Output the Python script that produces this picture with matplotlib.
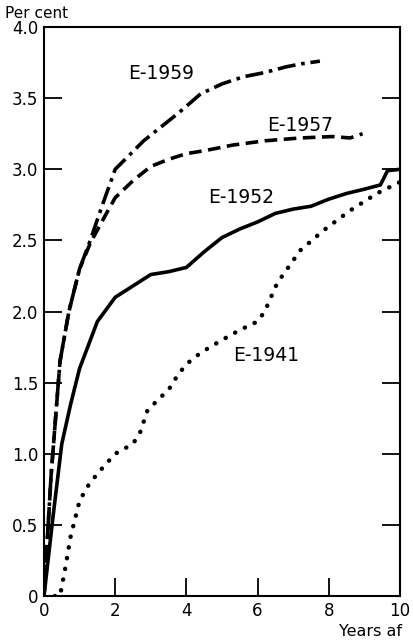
import matplotlib
matplotlib.use('Agg')
import matplotlib.pyplot as plt

# values (years, per cent)
x_1959 = [0, 0.2, 0.45, 0.7, 1.0, 1.3, 1.6, 2.0, 2.4, 2.8, 3.3, 3.8, 4.4, 5.0, 5.6, 6.2, 6.8, 7.2, 7.75]
y_1959 = [0, 0.85, 1.65, 2.0, 2.3, 2.5, 2.72, 3.0, 3.1, 3.2, 3.3, 3.4, 3.53, 3.6, 3.65, 3.68, 3.72, 3.74, 3.76]

x_1957 = [0, 0.2, 0.45, 0.7, 1.0, 1.3, 1.6, 2.0, 2.5, 3.0, 3.5, 4.0, 4.5, 5.3, 6.2, 7.2, 8.1, 8.6, 8.95]
y_1957 = [0, 0.85, 1.65, 2.0, 2.3, 2.48, 2.62, 2.8, 2.92, 3.02, 3.07, 3.11, 3.13, 3.17, 3.2, 3.22, 3.23, 3.22, 3.25]

x_1952 = [0, 0.25, 0.5, 0.75, 1.0, 1.5, 2.0, 2.5, 3.0, 3.5, 4.0, 4.5, 5.0, 5.5, 6.0, 6.5, 7.0, 7.5, 8.0, 8.5, 9.0, 9.45, 9.65, 10.0]
y_1952 = [0, 0.55, 1.07, 1.35, 1.6, 1.93, 2.1, 2.18, 2.26, 2.28, 2.31, 2.42, 2.52, 2.58, 2.63, 2.69, 2.72, 2.74, 2.79, 2.83, 2.86, 2.89, 2.99, 3.0]

x_1941 = [0, 0.45, 0.6, 0.75, 1.0, 1.25, 1.5, 2.0, 2.5, 2.7, 2.9, 3.2, 3.5, 3.75, 4.0, 4.4, 5.0, 5.5, 6.0, 6.2, 6.55, 7.2, 7.85, 8.6, 9.35, 10.0]
y_1941 = [0, 0, 0.2, 0.42, 0.67, 0.78, 0.86, 1.0, 1.07, 1.15, 1.3, 1.38, 1.45, 1.55, 1.63, 1.71, 1.8, 1.87, 1.93, 2.0, 2.2, 2.43, 2.57, 2.71, 2.83, 2.91]

labels = ['E-1959', 'E-1957', 'E-1952', 'E-1941']
label_pos = [(3.3, 3.67), (7.2, 3.31), (5.55, 2.8), (6.25, 1.69)]

x_ticks = [0, 2, 4, 6, 8, 10]
y_ticks = [0, 0.5, 1.0, 1.5, 2.0, 2.5, 3.0, 3.5, 4.0]
y_ticklabels = ['0', '0.5', '1.0', '1.5', '2.0', '2.5', '3.0', '3.5', '4.0']

plt.rcParams['font.family'] = ['DejaVu Sans']

fig = plt.figure(figsize=(4.13, 6.43), dpi=100)
ax = fig.add_axes([0.1065, 0.073, 0.862, 0.885])

ax.plot(x_1959, y_1959, color='black', lw=2.6, linestyle=(0, (5, 1.6, 1, 1.6)))
ax.plot(x_1957, y_1957, color='black', lw=2.6, linestyle=(0, (3.5, 1.8)))
ax.plot(x_1952, y_1952, color='black', lw=2.6)
ax.plot(x_1941, y_1941, color='black', lw=3.2, linestyle=(0, (0.05, 2.4)),
        dash_capstyle='round')

for lab, (lx, ly) in zip(labels, label_pos):
    ax.text(lx, ly, lab, fontsize=13.5, ha='center', va='center')

ax.set_xlim(0, 10)
ax.set_ylim(0, 4.0)
ax.set_xticks(x_ticks)
ax.set_yticks(y_ticks)
ax.set_yticklabels(y_ticklabels)
ax.tick_params(direction='in', length=13, width=1.3, labelsize=12, pad=4)
ax.tick_params(axis='y', right=True, left=True)
ax.tick_params(axis='x', top=False)
for s in ax.spines.values():
    s.set_linewidth(1.5)

fig.text(0.012, 0.991, 'Per cent', fontsize=11, ha='left', va='top')
fig.text(0.82, 0.006, 'Years af', fontsize=11.5, ha='left', va='bottom')

fig.savefig('out.png', dpi=100)
